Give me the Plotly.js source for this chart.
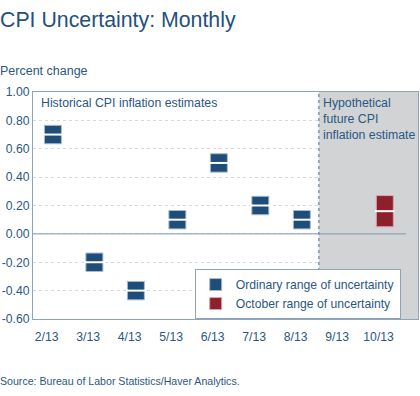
<!DOCTYPE html>
<html>
<head>
<meta charset="utf-8">
<script src="https://cdn.plot.ly/plotly-3.0.1.min.js"></script>
<style>html,body{margin:0;padding:0;background:#fff}#chart{width:420px;height:396px}</style>
</head>
<body>
<div id="chart"></div>
<script>
// Data
var months = ['2/13','3/13','4/13','5/13','6/13','7/13','8/13','9/13','10/13'];
var ordMonths = ['2/13','3/13','4/13','5/13','6/13','7/13','8/13'];
var ordCenter = [0.70, -0.20, -0.40, 0.10, 0.50, 0.20, 0.10];
var ordLow    = [0.635, -0.265, -0.465, 0.035, 0.435, 0.135, 0.035];
var ordHigh   = [0.765, -0.135, -0.335, 0.165, 0.565, 0.265, 0.165];
var octMonths = ['10/13'];
var octCenter = [0.16];
var octLow    = [0.05];
var octHigh   = [0.27];
var yTickVals = [1.0, 0.8, 0.6, 0.4, 0.2, 0.0, -0.2, -0.4, -0.6];
var yTickText = ['1.00','0.80','0.60','0.40','0.20','0.00','-0.20','-0.40','-0.60'];

var BLUE = '#1f4d7a', RED = '#8e1f2d', TXT = '#2b5784', AX = '#8ea4ba';
function idx(arr){ return arr.map(function(m){ return months.indexOf(m); }); }
var ordX = idx(ordMonths), octX = idx(octMonths);

var traces = [
  {type:'bar', name:'Ordinary range of uncertainty', x:ordX, base:ordLow,
   y:ordHigh.map(function(h,i){return h-ordLow[i];}), width:0.41,
   marker:{color:BLUE, line:{color:'#a9bccd', width:1}}, hoverinfo:'skip'},
  {type:'bar', name:'October range of uncertainty', x:octX, base:octLow,
   y:octHigh.map(function(h,i){return h-octLow[i];}), width:0.41,
   marker:{color:RED, line:{color:'#d5a7ad', width:1}}, hoverinfo:'skip'},
  {type:'scatter', mode:'markers', x:ordX, y:ordCenter, showlegend:false, hoverinfo:'skip',
   marker:{symbol:'line-ew', size:14, line:{color:'#ffffff', width:2}}},
  {type:'scatter', mode:'markers', x:octX, y:octCenter, showlegend:false, hoverinfo:'skip',
   marker:{symbol:'line-ew', size:14, line:{color:'#ffffff', width:2}}}
];

var layout = {
  width:420, height:396,
  margin:{l:33, r:2, t:92, b:77},
  paper_bgcolor:'#ffffff', plot_bgcolor:'#ffffff',
  font:{family:'Liberation Sans, Arial, sans-serif', size:12, color:TXT},
  title:{text:'CPI Uncertainty: Monthly', font:{size:21.3, color:'#24507c'},
         x:0, xref:'container', xanchor:'left', y:0.95, yref:'container', yanchor:'middle'},
  barmode:'overlay',
  showlegend:true,
  legend:{x:0.42, xanchor:'left', y:0.22, yanchor:'top', bgcolor:'#ffffff',
          bordercolor:AX, borderwidth:1, font:{size:12.2, color:TXT},
          itemwidth:30, tracegroupgap:0},
  xaxis:{range:[-0.48, 8.8], tickvals:months.map(function(m,i){return i-0.15;}),
         ticktext:months, showgrid:false, zeroline:false, showline:true, mirror:true,
         linecolor:AX, linewidth:1, ticks:'', ticklabelstandoff:6,
         tickfont:{size:12.2, color:TXT}, fixedrange:true},
  yaxis:{range:[-0.6, 1.0], tickvals:yTickVals, ticktext:yTickText, showgrid:true,
         gridcolor:'#d9d9d9', griddash:'dot', gridwidth:1, zeroline:false,
         showline:true, mirror:true, linecolor:AX, linewidth:1, ticks:'',
         tickfont:{size:12.2, color:TXT}, fixedrange:true},
  shapes:[
    {type:'rect', xref:'x', yref:'y', x0:6.41, x1:8.8, y0:-0.6, y1:1.0,
     fillcolor:'#d1d3d5', line:{width:0}, layer:'between'},
    {type:'line', xref:'x', yref:'y', x0:6.41, x1:6.41, y0:-0.6, y1:1.0,
     line:{color:'#7f97ae', width:1.5, dash:'dot'}, layer:'between'},
    {type:'line', xref:'x', yref:'y', x0:-0.48, x1:8.51, y0:0, y1:0,
     line:{color:'#7f97ae', width:1}, layer:'between'}
  ],
  annotations:[
    {text:'Historical CPI inflation estimates', xref:'paper', yref:'paper', x:0.015, y:0.993,
     xanchor:'left', yanchor:'top', showarrow:false, font:{size:12.3, color:TXT}},
    {text:'Hypothetical<br>future CPI<br>inflation estimate', xref:'x', yref:'paper', x:6.45, y:0.993,
     xanchor:'left', yanchor:'top', align:'left', showarrow:false, font:{size:12.3, color:TXT}},
    {text:'Percent change', xref:'paper', yref:'paper', x:-0.092, y:1.0925,
     xanchor:'left', yanchor:'middle', showarrow:false, font:{size:12.5, color:TXT}},
    {text:'Source: Bureau of Labor Statistics/Haver Analytics.', xref:'paper', yref:'paper',
     x:-0.092, y:-0.273, xanchor:'left', yanchor:'middle', showarrow:false,
     font:{size:10.6, color:TXT}}
  ]
};

Plotly.newPlot('chart', traces, layout, {displayModeBar:false, staticPlot:true});
</script>
</body>
</html>
